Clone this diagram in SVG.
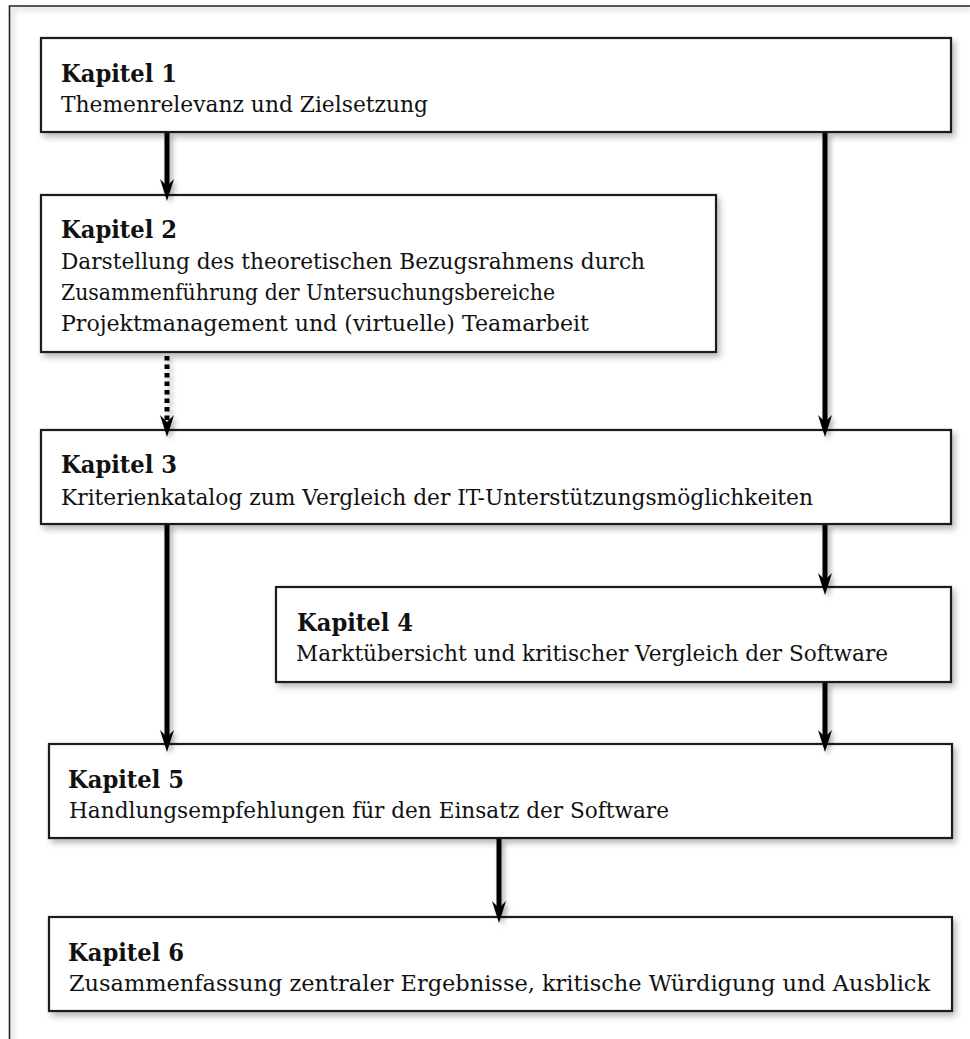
<svg xmlns="http://www.w3.org/2000/svg" xmlns:xlink="http://www.w3.org/1999/xlink" width="970" height="1039" viewBox="0 0 970 1039">
<defs>
<filter id="sh" x="-5%" y="-20%" width="115%" height="150%">
<feDropShadow dx="3" dy="4" stdDeviation="3" flood-color="#000" flood-opacity="0.28"/>
</filter>
<filter id="shl" x="-50%" y="-5%" width="300%" height="115%">
<feDropShadow dx="3" dy="3" stdDeviation="2.5" flood-color="#000" flood-opacity="0.3"/>
</filter>
<path id="ah" d="M0,0 L-7,-22 L0,-15 L7,-22 Z" fill="#000"/>
</defs>
<style>
.box{fill:#fff;stroke:#1a1a1a;stroke-width:2.2;filter:url(#sh)}
.h{font-family:"DejaVu Serif",serif;font-weight:bold;font-size:24.5px;fill:#111}
.t{font-family:"DejaVu Serif",serif;font-size:21.5px;fill:#111}
.c{stroke:#000;stroke-width:5;fill:none}
.d{stroke:#000;stroke-width:5;fill:none;stroke-dasharray:4.5 4}
.frame{stroke:#222;stroke-width:1.6;fill:none;filter:url(#shl)}
</style>
<rect width="970" height="1039" fill="#fff"/>
<path class="frame" d="M9.5,1039 L9.5,6 L970,6"/>

<g id="kapitel1">
<rect class="box" x="41" y="38" width="910" height="94"/>
<text class="h" x="61" y="82" textLength="116" lengthAdjust="spacingAndGlyphs">Kapitel 1</text>
<text class="t" x="61" y="112" textLength="367" lengthAdjust="spacingAndGlyphs">Themenrelevanz und Zielsetzung</text>
</g>
<g id="kapitel2">
<rect class="box" x="41" y="195" width="675" height="157"/>
<text class="h" x="61" y="238" textLength="116" lengthAdjust="spacingAndGlyphs">Kapitel 2</text>
<text class="t" x="61" y="269" textLength="584" lengthAdjust="spacingAndGlyphs">Darstellung des theoretischen Bezugsrahmens durch</text>
<text class="t" x="61" y="300" textLength="494" lengthAdjust="spacingAndGlyphs">Zusammenführung der Untersuchungsbereiche</text>
<text class="t" x="61" y="331" textLength="528" lengthAdjust="spacingAndGlyphs">Projektmanagement und (virtuelle) Teamarbeit</text>
</g>
<g id="kapitel3">
<rect class="box" x="41" y="430" width="910" height="94"/>
<text class="h" x="61" y="473" textLength="116" lengthAdjust="spacingAndGlyphs">Kapitel 3</text>
<text class="t" x="61" y="505" textLength="752" lengthAdjust="spacingAndGlyphs">Kriterienkatalog zum Vergleich der IT-Unterstützungsmöglichkeiten</text>
</g>
<g id="kapitel4">
<rect class="box" x="276" y="587" width="675" height="95"/>
<text class="h" x="297" y="631" textLength="116" lengthAdjust="spacingAndGlyphs">Kapitel 4</text>
<text class="t" x="296" y="661" textLength="592" lengthAdjust="spacingAndGlyphs">Marktübersicht und kritischer Vergleich der Software</text>
</g>
<g id="kapitel5">
<rect class="box" x="49" y="744" width="903" height="94"/>
<text class="h" x="68" y="788" textLength="116" lengthAdjust="spacingAndGlyphs">Kapitel 5</text>
<text class="t" x="69" y="818" textLength="600" lengthAdjust="spacingAndGlyphs">Handlungsempfehlungen für den Einsatz der Software</text>
</g>
<g id="kapitel6">
<rect class="box" x="49" y="917" width="903" height="94"/>
<text class="h" x="68" y="961" textLength="116" lengthAdjust="spacingAndGlyphs">Kapitel 6</text>
<text class="t" x="69" y="991" textLength="861" lengthAdjust="spacingAndGlyphs">Zusammenfassung zentraler Ergebnisse, kritische Würdigung und Ausblick</text>
</g>

<g id="connectors" filter="url(#shl)">
<line class="c" x1="167" y1="133" x2="167" y2="188"/>
<use xlink:href="#ah" x="167" y="201"/>
<line class="d" x1="167" y1="356" x2="167" y2="424"/>
<use xlink:href="#ah" x="167" y="437"/>
<line class="c" x1="825" y1="133" x2="825" y2="424"/>
<use xlink:href="#ah" x="825" y="437"/>
<line class="c" x1="825" y1="525" x2="825" y2="582"/>
<use xlink:href="#ah" x="825" y="595"/>
<line class="c" x1="825" y1="683" x2="825" y2="739"/>
<use xlink:href="#ah" x="825" y="752"/>
<line class="c" x1="167" y1="525" x2="167" y2="739"/>
<use xlink:href="#ah" x="167" y="752"/>
<line class="c" x1="499" y1="839" x2="499" y2="910"/>
<use xlink:href="#ah" x="499" y="923"/>
</g>
</svg>
